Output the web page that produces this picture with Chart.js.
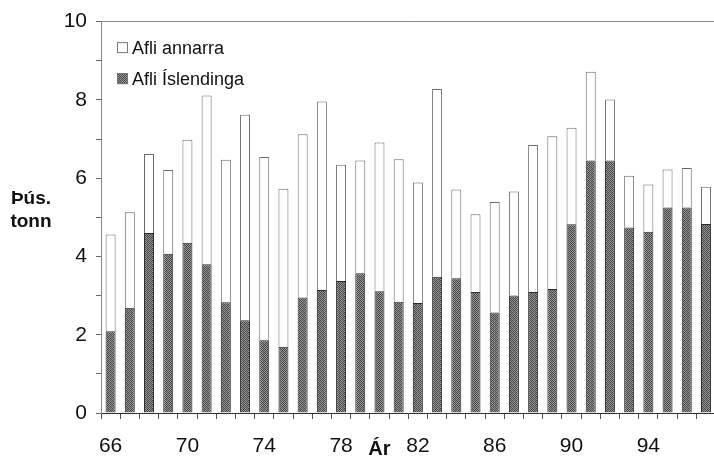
<!DOCTYPE html>
<html>
<head>
<meta charset="utf-8">
<script src="https://cdn.jsdelivr.net/npm/chart.js@4"></script>
<style>
  html, body { margin: 0; padding: 0; background: #fff; overflow: hidden; }
  #wrap { width: 714px; height: 461px; overflow: hidden; }
</style>
</head>
<body>
<div id="wrap"><canvas id="aflaChart" width="721" height="461"></canvas></div>
<script>
// Ár (1966-1997)
const years = ['66','67','68','69','70','71','72','73','74','75','76','77','78','79','80','81',
               '82','83','84','85','86','87','88','89','90','91','92','93','94','95','96','97'];
// þús. tonn
const afliIslendinga = [2.09, 2.69, 4.60, 4.07, 4.35, 3.80, 2.83, 2.37, 1.86, 1.69, 2.95, 3.14, 3.37, 3.57, 3.11, 2.84,
                        2.81, 3.48, 3.44, 3.09, 2.57, 3.00, 3.09, 3.17, 4.82, 6.45, 6.45, 4.74, 4.63, 5.25, 5.25, 4.83];
const afliAnnarra = [2.47, 2.44, 2.02, 2.14, 2.63, 4.31, 3.64, 5.25, 4.68, 4.04, 4.17, 4.82, 2.97, 2.88, 3.80, 3.64,
                     3.08, 4.80, 2.27, 1.99, 2.82, 2.66, 3.76, 3.90, 2.47, 2.27, 1.56, 1.32, 1.21, 0.97, 1.01, 0.95];
const xTickLabels = ['66','70','74','78','82','86','90','94'];
const yTickLabels = [0, 2, 4, 6, 8, 10];

const FONT = "'Liberation Sans', Arial, sans-serif";

// speckled grey fill like the printed original
function makeDither() {
    var c = document.createElement('canvas');
    c.width = 4; c.height = 4;
    var g = c.getContext('2d');
    var shades = [
        ['#3c3c3c','#9c9c9c','#555','#8a8a8a'],
        ['#8e8e8e','#4a4a4a','#a4a4a4','#404040'],
        ['#505050','#969696','#3e3e3e','#939393'],
        ['#a0a0a0','#464646','#888','#4e4e4e']
    ];
    for (var y = 0; y < 4; y++) {
        for (var x = 0; x < 4; x++) {
            g.fillStyle = shades[y][x];
            g.fillRect(x, y, 1, 1);
        }
    }
    return g.createPattern(c, 'repeat');
}
const darkFill = makeDither();

// legend inside the plot + the unrotated axis titles
const extras = {
    id: 'extras',
    afterDraw(chart) {
        var ctx = chart.ctx;
        var area = chart.chartArea;
        ctx.save();

        // legend (top series first)
        var items = chart.data.datasets.slice().reverse();
        ctx.font = '18px ' + FONT;
        ctx.textBaseline = 'middle';
        ctx.textAlign = 'left';
        items.forEach(function (ds, i) {
            var cy = area.top + 26 + i * 31;
            var bx = area.left + 16;
            ctx.fillStyle = ds.backgroundColor;
            ctx.fillRect(bx, cy - 5.5, 11, 11);
            ctx.strokeStyle = '#777';
            ctx.lineWidth = 1;
            ctx.strokeRect(bx + 0.5, cy - 5, 10, 10);
            ctx.fillStyle = '#111';
            ctx.fillText(ds.label, bx + 15, cy + 1);
        });

        // y title
        ctx.font = 'bold 19px ' + FONT;
        ctx.textAlign = 'center';
        ctx.fillStyle = '#111';
        ctx.fillText('Þús.', 31, 199);
        ctx.fillText('tonn', 31, 222);

        // x title
        ctx.font = 'bold 20px ' + FONT;
        var xs = chart.scales.x;
        ctx.fillText('Ár', xs.getPixelForValue(14), area.bottom + 36);
        ctx.restore();
    }
};

var ctx = document.getElementById('aflaChart').getContext('2d');
var chart = new Chart(ctx, {
    type: 'bar',
    data: {
        labels: years,
        datasets: [
            {
                label: 'Afli Íslendinga',
                data: afliIslendinga,
                backgroundColor: darkFill,
                borderColor: '#2a2a2a',
                borderWidth: 1
            },
            {
                label: 'Afli annarra',
                data: afliAnnarra,
                backgroundColor: '#ffffff',
                borderColor: '#6a6a6a',
                borderWidth: 1
            }
        ]
    },
    options: {
        responsive: false,
        animation: false,
        layout: { padding: { top: 21, right: 2, left: 0, bottom: 0 } },
        plugins: {
            legend: { display: false },
            tooltip: { enabled: false }
        },
        datasets: {
            bar: { categoryPercentage: 1.0, barPercentage: 0.52 }
        },
        scales: {
            x: {
                stacked: true,
                grid: {
                    drawOnChartArea: false,
                    tickLength: 6,
                    tickColor: '#555'
                },
                border: { color: '#333', width: 1 },
                ticks: {
                    autoSkip: false,
                    maxRotation: 0,
                    padding: 15,
                    color: '#111',
                    font: { family: FONT, size: 21 },
                    callback: function (v) {
                        var lab = this.getLabelForValue(v);
                        return xTickLabels.indexOf(lab) >= 0 ? lab : '';
                    }
                },
                afterFit: function (s) { s.height = 48; }
            },
            y: {
                stacked: true,
                min: 0,
                max: 10,
                grid: {
                    drawOnChartArea: true,
                    tickLength: 5,
                    tickColor: '#666',
                    color: function (c) { return c.tick && c.tick.value === 10 ? '#888' : 'rgba(0,0,0,0)'; }
                },
                border: { color: '#888', width: 1 },
                ticks: {
                    stepSize: 1,
                    padding: 9,
                    color: '#111',
                    font: { family: FONT, size: 21 },
                    callback: function (v) { return yTickLabels.indexOf(v) >= 0 ? v : ''; }
                },
                afterFit: function (s) { s.width = 101; }
            }
        }
    },
    plugins: [extras]
});
</script>
</body>
</html>
